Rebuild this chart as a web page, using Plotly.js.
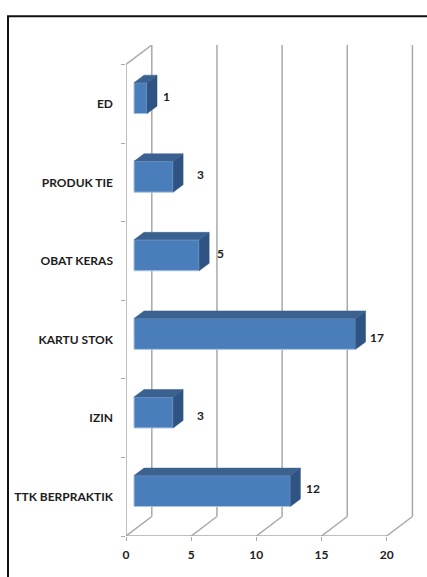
<!DOCTYPE html>
<html>
<head>
<meta charset="utf-8">
<script src="https://cdn.plot.ly/plotly-3.0.1.min.js"></script>
<style>html,body{margin:0;padding:0;background:#fff;overflow:hidden}#chart{width:427px;height:577px}</style>
</head>
<body>
<div id="chart"></div>
<script>
// bottom to top
const categories = ["TTK BERPRAKTIK", "IZIN", "KARTU STOK", "OBAT KERAS", "PRODUK TIE", "ED"];
const values = [12, 3, 17, 5, 3, 1];
const valueTicks = [0, 5, 10, 15, 20];

// 3D look, in axis units
const wallDX = 1.98, wallDY = 0.248;   // depth of the back wall
const gapDX = 0.614, gapDY = 0.072;    // front plane to bar front
const barDX = 0.767, barDY = 0.095;    // bar depth
const barWidth = 0.394;
// label nudges in pixels, per bar
const labelShiftX = [23, 27, 21, 21, 27, 19];
const labelShiftY = [3, -3, -4, 2, 2, 2];

const grey = "#a8a8a8";
const textColor = "#1c1c1c";
const font = {family: "Lato, Carlito, sans-serif", size: 12, color: textColor, weight: 700};
const n = categories.length;
const yIdx = categories.map((_, i) => i);
const yBottom = -0.5, yTop = n - 0.5;

const seg = (x0, y0, x1, y1) => ({type: "line", xref: "x", yref: "y", x0, y0, x1, y1, layer: "below",
  line: {color: grey, width: 1.5}});

const shapes = [
  seg(0, yBottom, 0, yTop),
  seg(0, yBottom, valueTicks[valueTicks.length - 1], yBottom),
  seg(0, yTop, wallDX, yTop + wallDY)
];
valueTicks.forEach(v => {
  shapes.push(seg(v, yBottom, v + wallDX, yBottom + wallDY));
  shapes.push(seg(v + wallDX, yBottom + wallDY, v + wallDX, yTop + wallDY));
});
// picture frame: left and top edges only
shapes.push({type: "path", xref: "paper", yref: "paper", layer: "above",
  path: "M -0.4097 -0.12 L -0.4097 1.0583 L 1.05 1.0583",
  line: {color: "#111", width: 2}});

const sideX = [], sideY = [], topX = [], topY = [];
values.forEach((v, i) => {
  const x1 = gapDX + v, x0 = gapDX;
  const yc = i + gapDY, lo = yc - barWidth / 2, hi = yc + barWidth / 2;
  sideX.push(x1, x1 + barDX, x1 + barDX, x1, x1, null);
  sideY.push(lo, lo + barDY, hi + barDY, hi, lo, null);
  topX.push(x0, x0 + barDX, x1 + barDX, x1, x0, null);
  topY.push(hi, hi + barDY, hi + barDY, hi, hi, null);
});

const traces = [
  {type: "bar", orientation: "h", x: values, y: yIdx, base: gapDX, width: barWidth,
   offset: -barWidth / 2 + gapDY,
   marker: {color: "#4a7ebb", line: {color: "#a8c3e4", width: 1}}, hoverinfo: "x+y"},
  {type: "scatter", mode: "lines", x: sideX, y: sideY, fill: "toself", fillcolor: "#2f5484",
   line: {width: 0.5, color: "#2f5484"}, hoverinfo: "skip"},
  {type: "scatter", mode: "lines", x: topX, y: topY, fill: "toself", fillcolor: "#3b6190",
   line: {width: 0.5, color: "#3b6190"}, hoverinfo: "skip"}
];

const annotations = values.map((v, i) => ({
  x: gapDX + v, y: i + gapDY, xref: "x", yref: "y", text: String(v), showarrow: false,
  xanchor: "center", yanchor: "middle", xshift: labelShiftX[i], yshift: labelShiftY[i], font
}));

const layout = {
  width: 427, height: 577,
  margin: {l: 126, r: 13, t: 45, b: 41, pad: 0},
  paper_bgcolor: "#fff", plot_bgcolor: "#fff",
  showlegend: false, barmode: "overlay",
  xaxis: {range: [0, 22.1], tickmode: "array", tickvals: valueTicks, ticktext: valueTicks.map(String),
    ticks: "outside", ticklen: 4, tickcolor: grey, tickwidth: 1, showgrid: false, zeroline: false,
    showline: false, tickfont: font, ticklabelstandoff: 4},
  yaxis: {range: [yBottom, yTop + wallDY], tickmode: "array", tickvals: yIdx, ticktext: categories,
    ticks: "", ticklen: 0, showgrid: false, zeroline: false, showline: false, tickfont: font,
    ticklabelstandoff: 12,
    minor: {tickmode: "array", tickvals: Array.from({length: n + 1}, (_, i) => i - 0.5),
      ticks: "outside", ticklen: 4, tickcolor: grey, tickwidth: 1, showgrid: false}},
  shapes, annotations
};
Plotly.newPlot("chart", traces, layout, {displayModeBar: false, staticPlot: true});
</script>
</body>
</html>
